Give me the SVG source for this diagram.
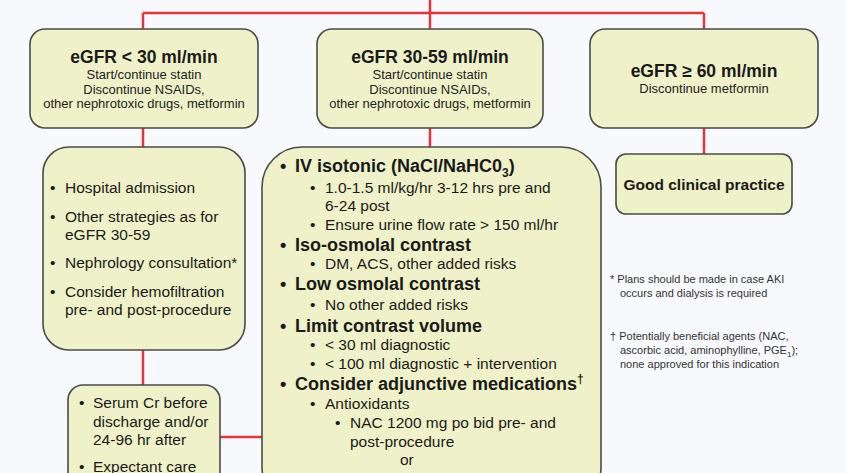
<svg xmlns="http://www.w3.org/2000/svg" width="846" height="473" viewBox="0 0 846 473">
<style>
.bg{fill:#f8f9fc}
.box{fill:#eff2c8;stroke:#4a4a4a;stroke-width:1.6}
.con{stroke:#e0363c;stroke-width:2.5;fill:none}
text{font-family:"Liberation Sans",Arial,sans-serif;fill:#1a1a1a}
.h{font-size:17.5px;font-weight:bold;text-anchor:middle}
.s{font-size:13px;text-anchor:middle;fill:#222}
.b{font-size:15.5px}
.bb{font-size:18px;font-weight:bold}
.f{font-size:11px;fill:#333}
</style>
<rect class="bg" x="0" y="0" width="846" height="473"/>
<g id="connectors">
<path class="con" d="M430 0V147"/>
<path class="con" d="M143 13H704"/>
<path class="con" d="M143 13V29"/>
<path class="con" d="M704 13V29"/>
<path class="con" d="M143 128V147"/>
<path class="con" d="M704 128V154"/>
<path class="con" d="M143 350V385"/>
<path class="con" d="M220 437H262"/>
</g>
<g id="egfr-lt30">
<rect class="box" x="30" y="29" width="228" height="99" rx="15"/>
<text class="h" x="144" y="63">eGFR &lt; 30 ml/min</text>
<text class="s" x="144" y="79">Start/continue statin</text>
<text class="s" x="144" y="94">Discontinue NSAIDs,</text>
<text class="s" x="144" y="108">other nephrotoxic drugs, metformin</text>
</g>
<g id="egfr-30-59">
<rect class="box" x="317" y="29" width="226" height="99" rx="15"/>
<text class="h" x="430" y="63">eGFR 30-59 ml/min</text>
<text class="s" x="430" y="79">Start/continue statin</text>
<text class="s" x="430" y="94">Discontinue NSAIDs,</text>
<text class="s" x="430" y="108">other nephrotoxic drugs, metformin</text>
</g>
<g id="egfr-ge60">
<rect class="box" x="590" y="29" width="228" height="99" rx="15"/>
<text class="h" x="704" y="77">eGFR ≥ 60 ml/min</text>
<text class="s" x="704" y="93">Discontinue metformin</text>
</g>
<g id="lt30-actions">
<rect class="box" x="43" y="147" width="202" height="203" rx="26"/>
<text class="b" x="50" y="193">•</text><text class="b" x="65" y="193">Hospital admission</text>
<text class="b" x="50" y="222">•</text><text class="b" x="65" y="222">Other strategies as for</text>
<text class="b" x="65" y="240">eGFR 30-59</text>
<text class="b" x="50" y="268">•</text><text class="b" x="65" y="268">Nephrology consultation*</text>
<text class="b" x="50" y="297">•</text><text class="b" x="65" y="297">Consider hemofiltration</text>
<text class="b" x="65" y="315">pre- and post-procedure</text>
</g>
<g id="mid-actions">
<rect class="box" x="262" y="147" width="339" height="360" rx="40"/>
<text class="bb" x="280" y="172">•</text><text class="bb" x="295" y="172">IV isotonic (NaCl/NaHC0<tspan font-size="12" dy="5">3</tspan><tspan dy="-5">)</tspan></text>
<text class="b" x="310" y="193">•</text><text class="b" x="325" y="193">1.0-1.5 ml/kg/hr 3-12 hrs pre and</text>
<text class="b" x="325" y="211">6-24 post</text>
<text class="b" x="310" y="230">•</text><text class="b" x="325" y="230">Ensure urine flow rate &gt; 150 ml/hr</text>
<text class="bb" x="280" y="251">•</text><text class="bb" x="295" y="251">Iso-osmolal contrast</text>
<text class="b" x="310" y="269">•</text><text class="b" x="325" y="269">DM, ACS, other added risks</text>
<text class="bb" x="280" y="290">•</text><text class="bb" x="295" y="290">Low osmolal contrast</text>
<text class="b" x="310" y="310">•</text><text class="b" x="325" y="310">No other added risks</text>
<text class="bb" x="280" y="332">•</text><text class="bb" x="295" y="332">Limit contrast volume</text>
<text class="b" x="310" y="350">•</text><text class="b" x="325" y="350">&lt; 30 ml diagnostic</text>
<text class="b" x="310" y="369">•</text><text class="b" x="325" y="369">&lt; 100 ml diagnostic + intervention</text>
<text class="bb" x="280" y="390">•</text><text class="bb" x="295" y="390">Consider adjunctive medications<tspan font-size="12" dy="-7">†</tspan></text>
<text class="b" x="310" y="409">•</text><text class="b" x="325" y="409">Antioxidants</text>
<text class="b" x="335" y="428">•</text><text class="b" x="350" y="428">NAC 1200 mg po bid pre- and</text>
<text class="b" x="350" y="447">post-procedure</text>
<text class="b" x="400" y="465">or</text>
</g>
<g id="good-practice">
<rect class="box" x="616" y="154" width="176" height="60" rx="10"/>
<text class="h" x="704" y="190" style="font-size:15.5px">Good clinical practice</text>
</g>
<g id="followup">
<rect class="box" x="68" y="385" width="152" height="120" rx="15"/>
<text class="b" x="79" y="408">•</text><text class="b" x="93" y="408">Serum Cr before</text>
<text class="b" x="93" y="427">discharge and/or</text>
<text class="b" x="93" y="445">24-96 hr after</text>
<text class="b" x="79" y="472">•</text><text class="b" x="93" y="472">Expectant care</text>
</g>
<g id="footnotes">
<text class="f" x="610" y="283">* Plans should be made in case AKI</text>
<text class="f" x="620" y="297">occurs and dialysis is required</text>
<text class="f" x="610" y="340">† Potentially beneficial agents (NAC,</text>
<text class="f" x="620" y="354">ascorbic acid, aminophylline, PGE<tspan font-size="8" dy="3">1</tspan><tspan dy="-3">);</tspan></text>
<text class="f" x="620" y="368">none approved for this indication</text>
</g>
</svg>
